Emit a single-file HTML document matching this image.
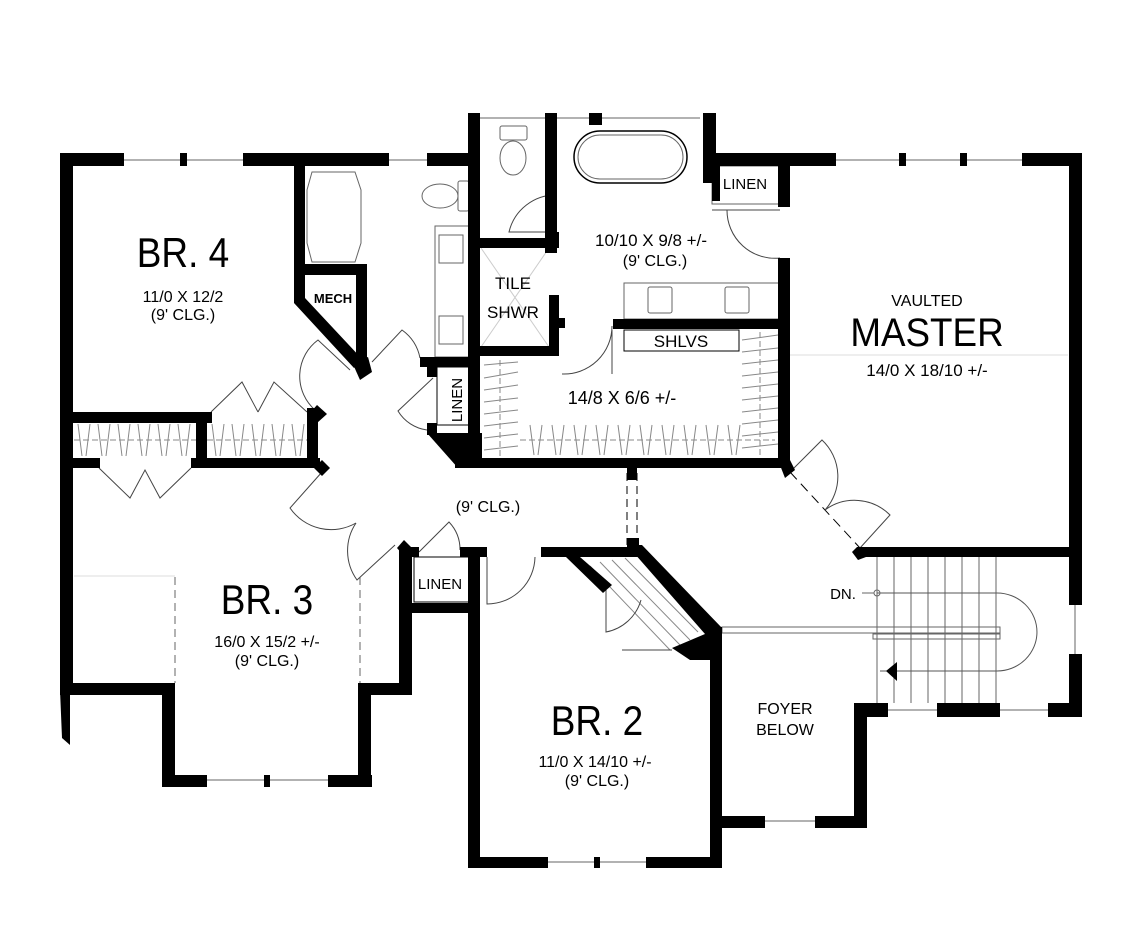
<!DOCTYPE html>
<html><head><meta charset="utf-8"><style>
html,body{margin:0;padding:0;background:#fff}
svg{display:block}
text{font-family:"Liberation Sans",sans-serif;fill:#000}
</style></head><body>
<svg width="1141" height="950" viewBox="0 0 1141 950" xmlns="http://www.w3.org/2000/svg">
<rect width="1141" height="950" fill="#fff"/>
<g stroke="#666" stroke-width="1" fill="none">
  <line x1="124" y1="160" x2="243" y2="160"/>
  <line x1="389" y1="160" x2="427" y2="160"/>
  <line x1="480" y1="118" x2="700" y2="118"/>
  <line x1="836" y1="160" x2="1022" y2="160"/>
  <line x1="207" y1="780" x2="328" y2="780"/>
  <line x1="548" y1="862" x2="646" y2="862"/>
  <line x1="765" y1="821" x2="822" y2="821"/>
  <line x1="888" y1="710" x2="937" y2="710"/>
  <line x1="1000" y1="710" x2="1048" y2="710"/>
  <line x1="1075" y1="605" x2="1075" y2="654"/>
  <line x1="790" y1="355" x2="1068" y2="355" stroke="#ddd"/>
  <line x1="74" y1="576" x2="175" y2="576" stroke="#ddd"/>
  <path d="M312 172 L355 172 L361 190 L361 243 L355 262 L312 262 L307 243 L307 190 Z"/>
  <rect x="458" y="181" width="11" height="30" rx="2"/>
  <ellipse cx="440" cy="196" rx="18" ry="12"/>
  <rect x="435" y="226" width="35" height="131"/>
  <rect x="439" y="235" width="24" height="28"/>
  <rect x="439" y="316" width="24" height="28"/>
  <rect x="500" y="126" width="27" height="14" rx="2"/>
  <ellipse cx="513" cy="158" rx="13" ry="17"/>
  <rect x="574" y="131" width="113" height="52" rx="26" stroke="#000" stroke-width="1.5"/>
  <rect x="578" y="135" width="105" height="44" rx="22"/>
  <rect x="624" y="283" width="155" height="36"/>
  <rect x="648" y="287" width="24" height="26" rx="2"/>
  <rect x="725" y="287" width="24" height="26" rx="2"/>
  <rect x="624" y="330" width="115" height="21" stroke="#000"/>
  <rect x="712" y="166" width="68" height="38"/>
  <line x1="481" y1="248" x2="549" y2="347" stroke="#ccc"/>
  <line x1="549" y1="248" x2="481" y2="347" stroke="#ccc"/>
  <rect x="437" y="367" width="33" height="58" stroke="#000"/>
  <rect x="414" y="557" width="59" height="45" stroke="#000"/>
  <line x1="877" y1="557" x2="877" y2="703"/>
  <line x1="894" y1="557" x2="894" y2="703"/>
  <line x1="911" y1="557" x2="911" y2="703"/>
  <line x1="928" y1="557" x2="928" y2="703"/>
  <line x1="945" y1="557" x2="945" y2="703"/>
  <line x1="962" y1="557" x2="962" y2="703"/>
  <line x1="979" y1="557" x2="979" y2="703"/>
  <line x1="996" y1="557" x2="996" y2="703"/>
  <path d="M877 593 L997 593 A40 39 0 0 1 997 671 L880 671" stroke="#555"/>
  <rect x="722" y="627" width="278" height="6"/>
  <rect x="873" y="634" width="127" height="5"/>
  <circle cx="877" cy="593" r="3"/>
  <line x1="862" y1="593" x2="874" y2="593"/>
  <line x1="175" y1="577" x2="175" y2="683" stroke-dasharray="8 5"/>
  <line x1="360" y1="577" x2="360" y2="683" stroke-dasharray="8 5"/>
  <line x1="627" y1="473" x2="627" y2="545" stroke-dasharray="8 5" stroke="#000"/>
  <line x1="637" y1="473" x2="637" y2="545" stroke-dasharray="8 5" stroke="#000"/>
  <line x1="790" y1="472" x2="860" y2="548" stroke-dasharray="10 6" stroke="#000"/>
</g>
<g stroke="#888" stroke-width="1" fill="none">
  <line x1="74" y1="440" x2="196" y2="440" stroke-dasharray="6 3"/>
  <line x1="207" y1="440" x2="307" y2="440" stroke-dasharray="6 3"/>
  <path d="M78 424 L82 456 M90 424 L86 456 M98 424 L102 456 M110 424 L106 456 M118 424 L122 456 M130 424 L126 456 M138 424 L142 456 M150 424 L146 456 M158 424 L162 456 M170 424 L166 456 M178 424 L182 456 M190 424 L186 456"/>
  <path d="M212 424 L216 456 M224 424 L220 456 M232 424 L236 456 M244 424 L240 456 M252 424 L256 456 M264 424 L260 456 M272 424 L276 456 M284 424 L280 456 M292 424 L296 456 M304 424 L300 456"/>
  <line x1="520" y1="440" x2="775" y2="440" stroke-dasharray="6 3"/>
  <path d="M530 425 L534 455 M542 425 L538 455 M552 425 L556 455 M564 425 L560 455 M574 425 L578 455 M586 425 L582 455 M596 425 L600 455 M608 425 L604 455 M618 425 L622 455 M630 425 L626 455 M640 425 L644 455 M652 425 L648 455 M662 425 L666 455 M674 425 L670 455 M684 425 L688 455 M696 425 L692 455 M706 425 L710 455 M718 425 L714 455 M728 425 L732 455 M740 425 L736 455"/>
  <line x1="500" y1="360" x2="500" y2="458" stroke-dasharray="6 3"/>
  <path d="M484 365 L518 362 M484 378 L518 372 M484 390 L518 385 M484 402 L518 398 M484 414 L518 410 M484 426 L518 422 M484 438 L518 434 M484 450 L518 446"/>
  <line x1="760" y1="332" x2="760" y2="458" stroke-dasharray="6 3"/>
  <path d="M742 340 L778 335 M742 352 L778 348 M742 364 L778 360 M742 376 L778 372 M742 388 L778 384 M742 400 L778 396 M742 412 L778 408 M742 424 L778 420 M742 436 L778 432 M742 448 L778 444"/>
  <path d="M612 560 L690 640 M600 562 L680 645 M625 558 L698 632 M590 566 L670 650"/>
</g>
<g stroke="#444" stroke-width="1" fill="none">
  <path d="M211 412 L242 382 L258 412 M258 412 L274 382 L307 412"/>
  <path d="M99 468 L130 498 L145 470 L160 498 L191 468"/>
  <path d="M350 370 L318 340 A45 45 0 0 0 315 410"/>
  <path d="M372 362 L402 330 A45 45 0 0 1 420 358"/>
  <path d="M433 378 L398 411 A40 40 0 0 0 427 430"/>
  <path d="M322 472 L290 508 A50 50 0 0 0 356 523"/>
  <path d="M356 523 A50 50 0 0 0 357 580 L395 545"/>
  <path d="M419 552 L449 522 A40 40 0 0 1 460 550"/>
  <path d="M487 557 L487 604 A48 48 0 0 0 535 557"/>
  <path d="M606 590 L606 632 A45 45 0 0 0 641 600 M622 650 L672 650"/>
  <path d="M557 195 A48 48 0 0 0 509 232 L555 232"/>
  <path d="M712 210 L780 210 M727 210 A48 48 0 0 0 780 258"/>
  <path d="M612 330 L612 374 M562 374 A48 48 0 0 0 612 326"/>
  <path d="M790 472 L822 440 A50 50 0 0 1 825 510"/>
  <path d="M825 510 A50 50 0 0 1 890 515 L860 548"/>
</g>
<g fill="#000">
  <rect x="60" y="153" width="64" height="13"/>
  <rect x="180" y="153" width="7" height="13"/>
  <rect x="243" y="153" width="146" height="13"/>
  <rect x="427" y="153" width="45" height="13"/>
  <rect x="60" y="153" width="13" height="537"/>
  <polygon points="60,690 70,690 70,745 62,738"/>
  <rect x="60" y="412" width="152" height="11"/>
  <rect x="60" y="458" width="40" height="10"/>
  <rect x="191" y="458" width="129" height="10"/>
  <rect x="196" y="412" width="11" height="56"/>
  <rect x="307" y="408" width="11" height="60"/>
  <polygon points="317,405 327,414 317,423 309,414"/>
  <polygon points="322,460 330,468 322,476 314,468"/>
  <polygon points="294,166 305,166 305,298 362,359 354,368 294,303"/>
  <rect x="305" y="264" width="62" height="11"/>
  <rect x="356" y="264" width="11" height="103"/>
  <polygon points="352,362 368,357 372,372 360,380"/>
  <rect x="468" y="113" width="12" height="355"/>
  <rect x="420" y="357" width="60" height="10"/>
  <rect x="427" y="357" width="10" height="20"/>
  <rect x="427" y="423" width="10" height="12"/>
  <polygon points="427,433 482,433 482,468 458,468"/>
  <rect x="455" y="458" width="335" height="10"/>
  <rect x="545" y="113" width="12" height="140"/>
  <rect x="589" y="113" width="13" height="12"/>
  <rect x="703" y="113" width="13" height="70"/>
  <rect x="703" y="153" width="133" height="13"/>
  <rect x="712" y="166" width="8" height="35"/>
  <rect x="778" y="166" width="12" height="41"/>
  <rect x="899" y="153" width="7" height="13"/>
  <rect x="960" y="153" width="7" height="13"/>
  <rect x="1022" y="153" width="60" height="13"/>
  <rect x="1069" y="153" width="13" height="404"/>
  <rect x="778" y="258" width="12" height="210"/>
  <polygon points="778,460 790,460 795,470 785,478"/>
  <rect x="480" y="238" width="79" height="10"/>
  <rect x="549" y="232" width="10" height="16"/>
  <rect x="549" y="295" width="10" height="60"/>
  <rect x="480" y="346" width="79" height="10"/>
  <rect x="559" y="318" width="6" height="10"/>
  <rect x="613" y="319" width="168" height="10"/>
  <rect x="627" y="468" width="10" height="12"/>
  <rect x="857" y="547" width="225" height="10"/>
  <polygon points="857,547 866,557 858,560 852,552"/>
  <rect x="1069" y="547" width="13" height="58"/>
  <rect x="1069" y="654" width="13" height="63"/>
  <rect x="1048" y="703" width="34" height="14"/>
  <rect x="937" y="703" width="63" height="14"/>
  <rect x="854" y="703" width="34" height="14"/>
  <rect x="854" y="703" width="13" height="125"/>
  <rect x="815" y="816" width="52" height="12"/>
  <rect x="710" y="816" width="55" height="12"/>
  <!-- br2 -->
  <rect x="541" y="547" width="98" height="10"/>
  <polygon points="627,545 642,545 722,628 722,660 690,660 672,648 705,634"/>
  <polygon points="566,557 580,557 612,585 603,593"/>
  <rect x="710" y="627" width="12" height="241"/>
  <rect x="468" y="547" width="12" height="321"/>
  <rect x="468" y="857" width="80" height="11"/>
  <rect x="594" y="857" width="6" height="11"/>
  <rect x="646" y="857" width="76" height="11"/>
  <rect x="627" y="538" width="12" height="12"/>
  <rect x="460" y="547" width="27" height="10"/>
  <rect x="399" y="547" width="20" height="10"/>
  <polygon points="397,548 404,540 412,548 404,556"/>
  <rect x="399" y="547" width="13" height="146"/>
  <rect x="412" y="603" width="62" height="10"/>
  <rect x="60" y="683" width="115" height="12"/>
  <rect x="162" y="683" width="13" height="104"/>
  <rect x="162" y="775" width="45" height="12"/>
  <rect x="264" y="775" width="6" height="12"/>
  <rect x="328" y="775" width="44" height="12"/>
  <rect x="358" y="683" width="13" height="104"/>
  <rect x="358" y="683" width="54" height="12"/>
</g>
<g text-anchor="middle">
  <text x="183" y="267" font-size="42" transform="translate(183 0) scale(0.88 1) translate(-183 0)">BR. 4</text>
  <text x="183" y="302" font-size="16">11/0 X 12/2</text>
  <text x="183" y="320" font-size="16">(9' CLG.)</text>
  <text x="333" y="303" font-size="13" font-weight="bold">MECH</text>
  <text x="513" y="289" font-size="17">TILE</text>
  <text x="513" y="318" font-size="17">SHWR</text>
  <text x="458" y="400" font-size="15" transform="rotate(-90 458 400)" dominant-baseline="middle">LINEN</text>
  <text x="745" y="189" font-size="15">LINEN</text>
  <text x="651" y="246" font-size="17">10/10 X 9/8 +/-</text>
  <text x="655" y="266" font-size="16">(9' CLG.)</text>
  <text x="681" y="347" font-size="17">SHLVS</text>
  <text x="622" y="404" font-size="18">14/8 X 6/6 +/-</text>
  <text x="927" y="306" font-size="16">VAULTED</text>
  <text x="927" y="346" font-size="40" transform="translate(927 0) scale(0.92 1) translate(-927 0)">MASTER</text>
  <text x="927" y="376" font-size="17">14/0 X 18/10 +/-</text>
  <text x="488" y="512" font-size="16">(9' CLG.)</text>
  <text x="267" y="614" font-size="42" transform="translate(267 0) scale(0.88 1) translate(-267 0)">BR. 3</text>
  <text x="267" y="647" font-size="16">16/0 X 15/2 +/-</text>
  <text x="267" y="666" font-size="16">(9' CLG.)</text>
  <text x="440" y="589" font-size="15">LINEN</text>
  <text x="597" y="735" font-size="42" transform="translate(597 0) scale(0.88 1) translate(-597 0)">BR. 2</text>
  <text x="595" y="767" font-size="16">11/0 X 14/10 +/-</text>
  <text x="597" y="786" font-size="16">(9' CLG.)</text>
  <text x="785" y="714" font-size="16">FOYER</text>
  <text x="785" y="735" font-size="16">BELOW</text>
  <text x="843" y="599" font-size="15">DN.</text>
</g>
<polygon points="886,671 897,662 897,681" fill="#000"/>
</svg>
</body></html>
